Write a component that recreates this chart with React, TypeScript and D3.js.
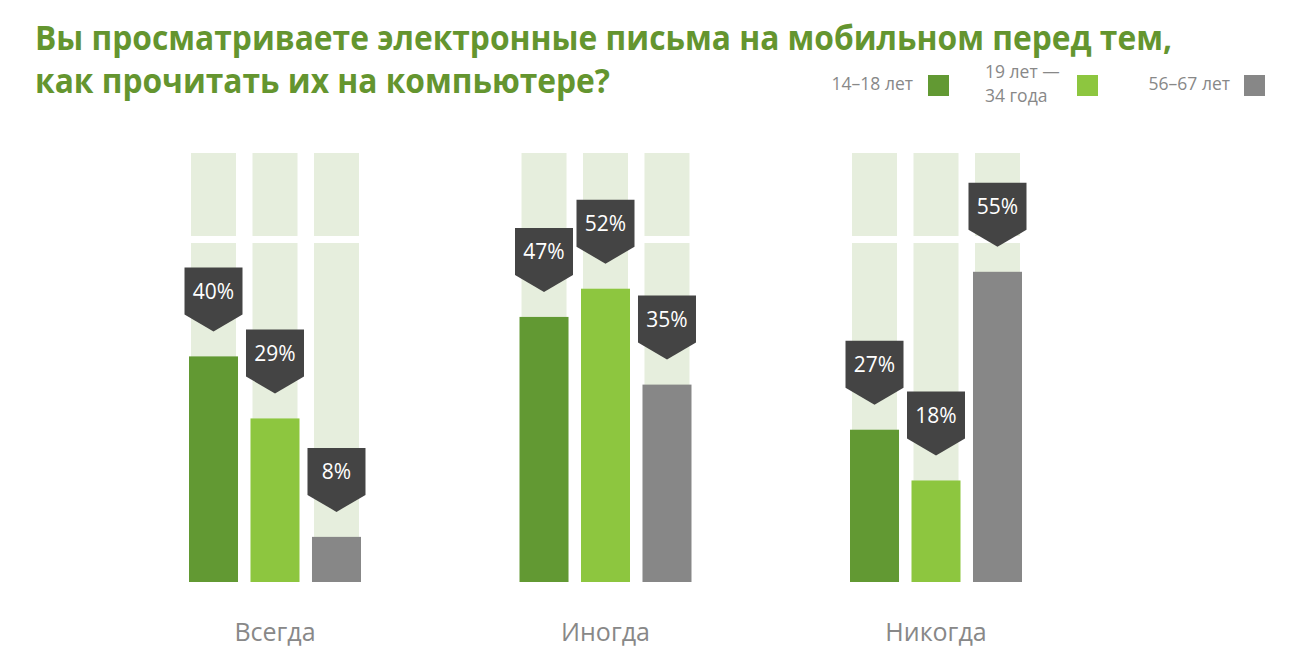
import React from "react";
import * as d3 from "d3";

const categories = ["Всегда", "Иногда", "Никогда"];
const seriesNames = ["14–18 лет", "19 лет — 34 года", "56–67 лет"];
const legendLines2 = ["19 лет —", "34 года"];
const values1418 = [40, 47, 27];
const values1934 = [29, 52, 18];
const values5667 = [8, 35, 55];
const seriesValues = [values1418, values1934, values5667];
const seriesColors = ["#629933", "#8dc63f", "#878787"];
const titleLines = [
  "Вы просматриваете электронные письма на мобильном перед тем,",
  "как прочитать их на компьютере?",
];

const W = 1315;
const H = 662;
const baseY = 582;

export default function App() {
  const x0 = d3
    .scaleBand<string>()
    .domain(categories)
    .range([189, 1022])
    .paddingInner(0.4796)
    .paddingOuter(0);
  const x1 = d3
    .scaleBand<string>()
    .domain(seriesNames)
    .range([0, x0.bandwidth()])
    .paddingInner(0.203)
    .paddingOuter(0);
  const y = d3.scaleLinear().domain([0, 100]).range([baseY, baseY - 564]);

  const bw = x1.bandwidth();
  const bgW = bw - 4;
  const bgTop = 153;
  const gapTop = 236;
  const gapBot = 243;
  const lw = 58;
  const rectH = 47;
  const tipH = 17;

  const font = "'Open Sans', 'Noto Sans', sans-serif";

  return (
    <svg
      width={W}
      height={H}
      viewBox={`0 0 ${W} ${H}`}
      style={{ position: "absolute", left: 0, top: 0, background: "#fff" }}
      fontFamily={font}
    >
      <text x={35} y={50} fill="#64952f" fontSize={34} fontWeight={700} textLength={1137} lengthAdjust="spacingAndGlyphs">
        {titleLines[0]}
      </text>
      <text x={35} y={93} fill="#64952f" fontSize={34} fontWeight={700} textLength={575} lengthAdjust="spacingAndGlyphs">
        {titleLines[1]}
      </text>

      {/* legend */}
      <g fontSize={17.5} fill="#888">
        <text x={913} y={90} textAnchor="end">{seriesNames[0]}</text>
        <rect x={928} y={75} width={21} height={21} fill={seriesColors[0]} />
        <text x={985} y={77.5}>{legendLines2[0]}</text>
        <text x={985} y={101.5}>{legendLines2[1]}</text>
        <rect x={1077} y={75} width={21} height={21} fill={seriesColors[1]} />
        <text x={1230} y={90} textAnchor="end">{seriesNames[2]}</text>
        <rect x={1244} y={75} width={21} height={21} fill={seriesColors[2]} />
      </g>

      {categories.map((c, ci) => {
        const gx = x0(c)!;
        return (
          <g key={c}>
            {seriesNames.map((s) => {
              const bx = gx + x1(s)!;
              const bgx = bx + 2;
              return (
                <g key={s}>
                  <rect x={bgx} y={bgTop} width={bgW} height={gapTop - bgTop} fill="#e6eedd" />
                  <rect x={bgx} y={gapBot} width={bgW} height={baseY - gapBot} fill="#e6eedd" />
                </g>
              );
            })}
            {seriesNames.map((s, si) => {
              const v = seriesValues[si][ci];
              const bx = gx + x1(s)!;
              return (
                <rect key={s} x={bx} y={y(v)} width={bw} height={baseY - y(v)} fill={seriesColors[si]} />
              );
            })}
            {seriesNames.map((s, si) => {
              const v = seriesValues[si][ci];
              const cx = gx + x1(s)! + bw / 2;
              const tip = y(v) - 25;
              const top = tip - tipH - rectH;
              const path = `M${cx - lw / 2},${top} L${cx + lw / 2},${top} L${cx + lw / 2},${top + rectH} L${cx},${tip} L${cx - lw / 2},${top + rectH} Z`;
              return (
                <g key={s}>
                  <path d={path} fill="#444444" />
                  <text x={cx} y={top + rectH / 2 + 8} textAnchor="middle" fill="#fff" fontSize={21}>
                    {v}%
                  </text>
                </g>
              );
            })}
            <text x={gx + x0.bandwidth() / 2} y={641} textAnchor="middle" fill="#888" fontSize={25}>
              {c}
            </text>
          </g>
        );
      })}
    </svg>
  );
}
